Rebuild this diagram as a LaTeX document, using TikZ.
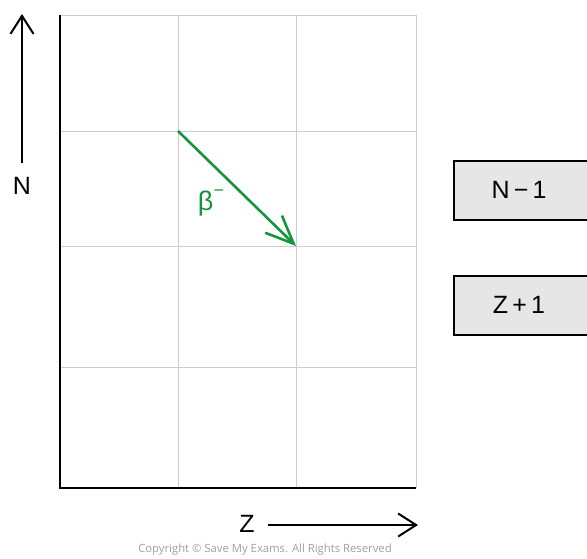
\documentclass[tikz,border=0pt]{standalone}
\usepackage{fontspec}
\setmainfont{Liberation Sans}
\newfontfamily\cpfont{Open Sans}
\usetikzlibrary{arrows.meta}
\definecolor{gridgray}{RGB}{205,205,205}
\definecolor{boxgray}{RGB}{230,230,230}
\definecolor{arrgreen}{RGB}{20,150,60}
\begin{document}
\begin{tikzpicture}[x=1pt,y=-1pt,
  gridline/.style={draw=gridgray,line width=1pt},
  axisline/.style={draw=black,line width=2.6pt},
  openarrow/.style={draw=black,line width=2pt,-{Straight Barb[length=18pt,width=23pt,line width=2pt]}},
  labelbox/.style={draw=black,fill=boxgray,line width=1.6pt,minimum width=140pt,minimum height=59pt,anchor=north west,inner sep=0pt},
  lbl/.style={font=\fontsize{25}{30}\selectfont}]
\useasboundingbox (0,0) rectangle (587,558);
\clip (0,0) rectangle (587,558);
% grid
\foreach \x in {178,296,416} \draw[gridline] (\x,15) -- (\x,488);
\foreach \y in {15,131,246,367} \draw[gridline] (60,\y) -- (416,\y);
% axes
\coordinate (tl) at (60,15);
\coordinate (bl) at (60,488);
\coordinate (br) at (416,488);
\draw[axisline] (tl) -- (bl) -- (br);
% N arrow
\node[lbl] (N) at (22,186) {N};
\coordinate (ntip) at (22,14);
\draw[openarrow] (22,163) -- (ntip);
% Z arrow
\node[lbl] (Z) at (247,524) {Z};
\coordinate (ztip) at (418,525);
\draw[openarrow] (268,525) -- (ztip);
% beta arrow
\coordinate (bstart) at (178,131);
\coordinate (bend) at (296,246);
\draw[arrgreen,line width=2.6pt,-{Straight Barb[length=28pt,width=24pt,line width=2.6pt]}] (bstart) -- (bend);
\node[text=arrgreen,font=\fontsize{27}{30}\selectfont] (beta) at (211,203) {β\raisebox{0.5em}{\fontsize{18}{20}\selectfont −}};
% boxes
\node[labelbox] (b1) at (453,160) {};
\node[lbl] (t1) at (519,190) {N\,−\,1};
\node[labelbox] (b2) at (453,275) {};
\node[lbl] (t2) at (519,305) {Z\,+\,1};
% copyright
\node[text=gray!75,font=\cpfont\fontsize{11.3}{13}\selectfont] (cp) at (265,550) {Copyright © Save My Exams. All Rights Reserved};
\end{tikzpicture}
\end{document}
